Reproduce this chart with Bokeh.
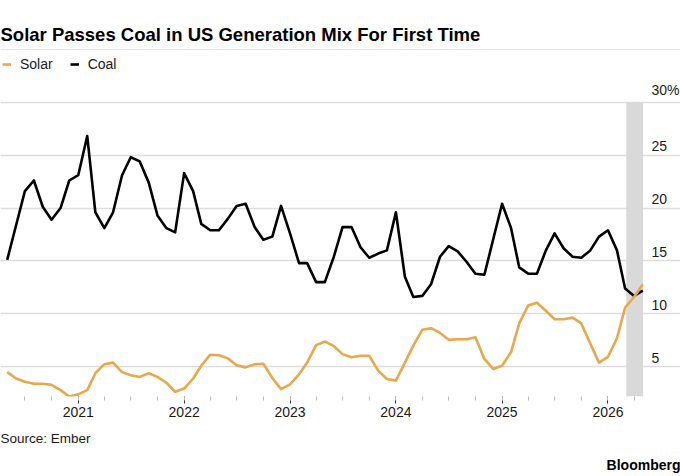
import pandas as pd
from bokeh.plotting import figure
from bokeh.models import (Range1d, FixedTicker, DatetimeTickFormatter, Grid,
                          BoxAnnotation, Legend, LegendItem, Title, ColumnDataSource)
from bokeh.embed import file_html
from bokeh.resources import INLINE

TITLE = "Solar Passes Coal in US Generation Mix For First Time"
SOURCE = "Source: Ember"
BRAND = "Bloomberg"

START_MONTH = "2020-05-01"
SOLAR = [4.5, 3.9, 3.6, 3.4, 3.4, 3.3, 2.8, 2.2, 2.4, 2.8, 4.4, 5.25, 5.4, 4.5, 4.2, 4.05,
         4.4, 4.05, 3.5, 2.65, 2.95, 3.9, 5.1, 6.15, 6.1, 5.8, 5.15, 4.95, 5.25, 5.3, 3.95,
         2.9, 3.35, 4.3, 5.4, 7.05, 7.4, 6.95, 6.2, 5.9, 6.05, 6.05, 4.65, 3.85, 3.7, 5.4,
         7.0, 8.5, 8.65, 8.2, 7.55, 7.6, 7.6, 7.8, 5.75, 4.8, 5.1, 6.4, 9.1, 10.8, 11.05,
         10.3, 9.5, 9.5, 9.65, 9.1, 7.2, 5.4, 5.95, 7.7, 10.6, 11.6, 12.8]
COAL = [15.1, 18.4, 21.6, 22.6, 20.1, 18.9, 20.0, 22.6, 23.1, 26.8, 19.6, 18.1, 19.6, 23.1,
        24.8, 24.4, 22.4, 19.3, 18.1, 17.7, 23.3, 21.6, 18.5, 17.9, 17.9, 19.0, 20.2, 20.4,
        18.2, 17.0, 17.3, 20.2, 17.6, 14.8, 14.8, 13.0, 13.0, 15.4, 18.2, 18.2, 16.3, 15.3,
        15.7, 16.0, 19.6, 13.5, 11.6, 11.7, 12.8, 15.4, 16.4, 15.9, 14.9, 13.8, 13.7, 17.0,
        20.4, 18.1, 14.4, 13.8, 13.8, 16.0, 17.6, 16.2, 15.4, 15.3, 16.0, 17.3, 17.9, 16.0,
        12.4, 11.7, 12.2]

Y_TICKS = [5, 10, 15, 20, 25, 30]
Y_LABELS = ["5", "10", "15", "20", "25", "30%"]
YEAR_TICKS = ["2021-01-01", "2022-01-01", "2023-01-01", "2024-01-01", "2025-01-01", "2026-01-01"]
QUARTER_FIRST, QUARTER_LAST = "2020-07-01", "2026-04-01"
HIGHLIGHT = ("2026-03-05", "2026-05-02")
HIGHLIGHT_TOP = 30
X_START, X_END = "2020-04-08", "2026-09-08"
Y_START, Y_END = 2.2, 35.35

SOLAR_C = "#e8a84c"
COAL_C = "#000000"
TEXT_C = "#1a1a1a"
FONT = "Liberation Sans"


def ms(t):
    return pd.Timestamp(t).value // 10**6


months = pd.date_range(START_MONTH, periods=len(COAL), freq="MS")
src = ColumnDataSource(dict(x=months, solar=SOLAR, coal=COAL))
lab_src = ColumnDataSource(dict(x=[ms(X_END)] * len(Y_TICKS), y=Y_TICKS, text=Y_LABELS))

p = figure(width=680, height=476, x_axis_type="datetime", y_axis_location=None,
           x_range=Range1d(ms(X_START), ms(X_END)),
           y_range=Range1d(Y_START, Y_END),
           output_backend="svg", toolbar_location=None,
           min_border_left=0, min_border_right=0, min_border_top=45, min_border_bottom=80)
p.outline_line_color = None
p.xgrid.visible = False

# title
p.title.text = TITLE
p.title.text_font = FONT
p.title.text_font_style = "bold"
p.title.text_font_size = "18.5px"
p.title.text_color = "#000000"
p.title.align = "left"
p.title.standoff = 1

# y gridlines
p.add_layout(Grid(dimension=1, ticker=FixedTicker(ticks=Y_TICKS),
                  grid_line_color="#dddddd", grid_line_width=1.5))

# highlight band
p.add_layout(BoxAnnotation(left=ms(HIGHLIGHT[0]), right=ms(HIGHLIGHT[1]), top=HIGHLIGHT_TOP,
                           fill_color="#d9d9d9", fill_alpha=1.0, line_color=None,
                           level="underlay"))

# lines
r_coal = p.line("x", "coal", source=src, line_color=COAL_C, line_width=2.6, line_join="round")
r_solar = p.line("x", "solar", source=src, line_color=SOLAR_C, line_width=2.6, line_join="round")

# value labels sitting on top of the gridlines at the right
p.text("x", "y", text="text", source=lab_src, x_offset=-29, y_offset=-4,
       text_align="left", text_baseline="bottom", text_font_size="14px",
       text_color=TEXT_C)

legend = Legend(items=[LegendItem(label="Solar", renderers=[r_solar]),
                       LegendItem(label="Coal", renderers=[r_coal])],
                orientation="horizontal", location=(2, 324),
                glyph_width=9, glyph_height=16, label_standoff=9, spacing=17,
                padding=0, margin=0, border_line_color=None, background_fill_alpha=0,
                label_text_font=FONT, label_text_font_size="14px", label_text_color=TEXT_C)
p.add_layout(legend)

# x axis
xa = p.xaxis[0]
xa.ticker = FixedTicker(ticks=[ms(t) for t in YEAR_TICKS],
                        minor_ticks=[ms(t) for t in pd.date_range(QUARTER_FIRST, QUARTER_LAST, freq="QS")])
xa.formatter = DatetimeTickFormatter(years="%Y", months="%Y", days="%Y")
xa.axis_line_color = None
xa.major_tick_in = 0
xa.major_tick_out = 7
xa.major_tick_line_color = "#333333"
xa.minor_tick_in = 0
xa.minor_tick_out = 4
xa.minor_tick_line_color = "#bbbbbb"
xa.major_label_standoff = 3
xa.major_label_text_font = FONT
xa.major_label_text_font_size = "14px"
xa.major_label_text_color = TEXT_C

# footer
p.add_layout(Title(text=SOURCE, align="left", text_font=FONT, text_font_size="13.5px",
                   text_font_style="normal", text_color=TEXT_C, standoff=18), "below")
p.add_layout(Title(text=BRAND, align="right", text_font=FONT, text_font_size="14px",
                   text_font_style="bold", text_color="#000000", standoff=0), "below")

open("out.html", "w").write(file_html(p, INLINE))
